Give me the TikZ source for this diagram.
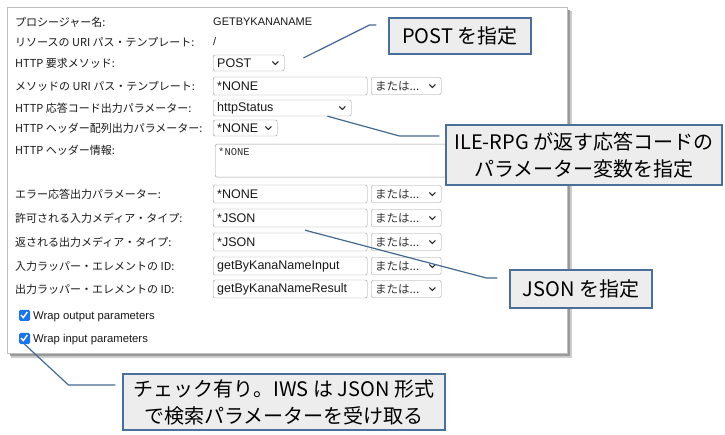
\documentclass[tikz,border=0pt]{standalone}
\usepackage{fontspec}
\setmainfont{Noto Sans CJK JP}
\newfontfamily\uifont{Liberation Sans}
\newfontfamily\monofont{Liberation Mono}
\usetikzlibrary{positioning}
\definecolor{notedraw}{HTML}{4A7099}
\definecolor{linkcol}{HTML}{44698F}
\definecolor{checkcol}{HTML}{1A76E8}

\begin{document}
\begin{tikzpicture}[x=1pt,y=-1pt,
  lbl/.style={anchor=west,inner sep=0pt,text=black!90,font=\fontsize{11}{13}\selectfont},
  val/.style={anchor=west,inner sep=0pt,text=black!90,font=\uifont\fontsize{11}{13}\selectfont},
  field/.style={draw=black!40,rounded corners=2pt,fill=white,anchor=west,minimum height=18pt,inner xsep=4pt,inner ysep=0pt,text width=146pt,align=left,text=black!90,font=\uifont\fontsize{12.5}{14}\selectfont},
  dd/.style={field,minimum height=16pt},
  ordd/.style={draw=black!40,rounded corners=2pt,fill=white,anchor=west,minimum height=17pt,inner xsep=4pt,inner ysep=0pt,text width=62pt,align=left,text=black!80,font=\fontsize{11.5}{13}\selectfont},
  chev/.style={draw=black!85,line width=1pt},
  note/.style={draw=notedraw,line width=1.1pt,fill=black!7,inner sep=0pt,align=center,font=\fontsize{20}{27}\selectfont},
  link/.style={draw=linkcol,line width=1.2pt},
  cbox/.style={fill=checkcol,rounded corners=1.5pt,minimum size=11pt,inner sep=0pt},
  cbtext/.style={anchor=west,inner sep=0pt,text=black!90,font=\uifont\fontsize{11.3}{13}\selectfont}
]
\useasboundingbox (0,0) rectangle (725,435);
\fill[black!20] (11,11) rectangle (572,358);
\fill[black!40] (10,10) rectangle (570,356);
\draw[black!25,fill=white] (7,7) rectangle (567,353);

\foreach \y/\t [count=\i] in {22/プロシージャー名:,42/リソースの URI パス・テンプレート:,63/HTTP 要求メソッド:,86/メソッドの URI パス・テンプレート:,108/HTTP 応答コード出力パラメーター:,128/HTTP ヘッダー配列出力パラメーター:,150/HTTP ヘッダー情報:,194/エラー応答出力パラメーター:,218/許可される入力メディア・タイプ:,242/返される出力メディア・タイプ:,266/入力ラッパー・エレメントの ID:,289/出力ラッパー・エレメントの ID:}
  \node[lbl] (r\i) at (15,\y) {\t};

\node[val] (procname) at (213,22) {GETBYKANANAME};
\node[val] (respath) at (213,42) {/};
\node[dd,text width=63pt] (postdd) at (213,63) {POST};
\node[dd,text width=130pt] (statusdd) at (213,108) {httpStatus};
\node[dd,text width=56pt] (hdrdd) at (213,128) {*NONE};
\node[draw=black!40,rounded corners=2pt,fill=white,anchor=north west,minimum width=255pt,minimum height=33pt] (hdrbox) at (215,144) {};
\node[anchor=north west,inner sep=0pt,text=black!80,font=\monofont\fontsize{10.5}{12}\selectfont] (hdrtext) at (218,148) {*NONE};

\foreach \y/\v [count=\i] in {86/*NONE,194/*NONE,218/*JSON,242/*JSON,266/getByKanaNameInput,289/getByKanaNameResult}{
  \node[field] (f\i) at (213,\y) {\v};
  \node[ordd] (o\i) at (371,\y) {または...};
}
\foreach \n in {postdd,statusdd,hdrdd,o1,o2,o3,o4,o5,o6}
  \draw[chev] ([xshift=-12pt]\n.east) ++(0,-1.5) -- ++(3,3) -- ++(3,-3);

\node[cbox] (cb1) at (24.5,315.5) {};
\node[cbox] (cb2) at (24.5,338.5) {};
\foreach \n in {cb1,cb2}
  \draw[white,line width=1.4pt] ([xshift=-3.5pt]\n.center) ++(0,-0.5) -- ++(2.3,2.6) -- ++(4,-5.6);
\node[cbtext] (wrapout) at (33,317) {Wrap output parameters};
\node[cbtext] (wrapin) at (33,340) {Wrap input parameters};

\node[note,minimum width=142pt,minimum height=36pt] (postnote) at (460,36) {POST を指定};
\node[note,minimum width=276pt,minimum height=60pt] (ilenote) at (584,155) {ILE-RPG が返す応答コードの\\パラメーター変数を指定};
\node[note,minimum width=142pt,minimum height=38pt] (jsonnote) at (581,289) {JSON を指定};
\node[note,minimum width=322pt,minimum height=56pt] (wrapnote) at (284,402) {チェック有り。IWS は JSON 形式\\で検索パラメーターを受け取る};

\coordinate (postpt) at ([shift={(19pt,5pt)}]postdd.east);
\draw[link] (postpt) -- ([shift={(-19pt,11pt)}]postnote.west) -- ([shift={(-12pt,11pt)}]postnote.west);
\draw[link] ([xshift=-24pt]statusdd.south east) -- ([shift={(-46pt,19pt)}]ilenote.west) -- ([shift={(-6pt,19pt)}]ilenote.west);
\draw[link] ([shift={(92pt,-3pt)}]f3.south west) -- ([shift={(-23pt,11pt)}]jsonnote.west) -- ([shift={(-12pt,11pt)}]jsonnote.west);
\draw[link] (cb2.south) -- ([shift={(-54pt,17pt)}]wrapnote.west) -- ([shift={(-7pt,17pt)}]wrapnote.west);
\end{tikzpicture}
\end{document}
